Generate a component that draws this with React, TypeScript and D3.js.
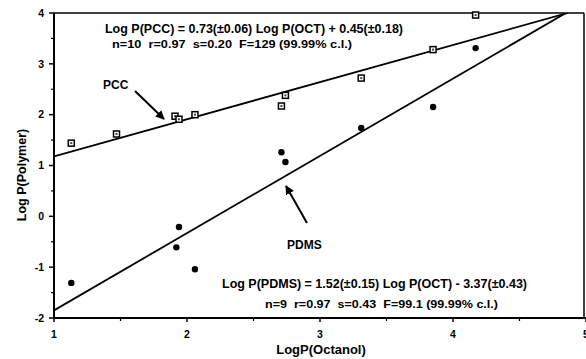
import React from 'react';
import * as d3 from 'd3';

// PCC (open squares) and PDMS (filled circles): log P(octanol) vs log P(polymer)
const pccOct = [1.13, 1.47, 1.91, 1.94, 2.06, 2.71, 2.74, 3.31, 3.85, 4.17];
const pccPoly = [1.44, 1.62, 1.97, 1.91, 2.0, 2.17, 2.38, 2.72, 3.28, 3.96];
const pdmsOct = [1.13, 1.92, 1.94, 2.06, 2.71, 2.74, 3.31, 3.85, 4.17];
const pdmsPoly = [-1.31, -0.61, -0.21, -1.04, 1.26, 1.07, 1.74, 2.15, 3.31];

// regression fits as printed on the chart
const pccFit = { slope: 0.73, intercept: 0.45 };
const pdmsFit = { slope: 1.52, intercept: -3.37 };

const xTicks = [1, 2, 3, 4, 5];
const yTicks = [-2, -1, 0, 1, 2, 3, 4];

const W = 586;
const H = 359;
const font = "'Liberation Sans', Arial, sans-serif";

export default function App() {
  const x = d3.scaleLinear().domain([1, 5]).range([54, 586]);
  const y = d3.scaleLinear().domain([-2, 4]).range([318, 13]);
  const [x0, x1] = x.range();
  const [yb, yt] = y.range();

  const fitLine = (fit: { slope: number; intercept: number }) => {
    const xEnd = Math.min(5, (4 - fit.intercept) / fit.slope);
    const pts: [number, number][] = [1, xEnd].map((v) => [v, fit.slope * v + fit.intercept]);
    return d3.line<[number, number]>().x((d) => x(d[0])).y((d) => y(d[1]))(pts) || '';
  };

  const minorX = d3.range(1.5, 5, 1);
  const minorY = d3.range(-1.5, 4, 1);

  return (
    <svg
      width={W}
      height={H}
      style={{ position: 'absolute', left: 0, top: 0, background: '#fff' }}
      fontFamily={font}
      fontWeight="bold"
    >
      <defs>
        <marker id="ah" viewBox="0 0 10 10" refX="9" refY="5" markerWidth="9" markerHeight="9" orient="auto" markerUnits="userSpaceOnUse">
          <path d="M0,0 L10,5 L0,10 z" fill="#000" />
        </marker>
        <clipPath id="plot">
          <rect x={x0} y={yt} width={x1 - x0} height={yb - yt} />
        </clipPath>
      </defs>

      {/* frame */}
      <line x1={x0} x2={x1 - 2} y1={yt} y2={yt} stroke="#000" strokeWidth={1.5} />
      <line x1={x1 - 2} x2={x1 - 2} y1={yt} y2={yb} stroke="#000" strokeWidth={1.5} />
      <line x1={x0} x2={x1} y1={yb} y2={yb} stroke="#000" strokeWidth={2} />
      <line x1={x0} x2={x0} y1={yt} y2={yb} stroke="#000" strokeWidth={2} />

      {/* y ticks */}
      {yTicks.map((t) => (
        <g key={'y' + t}>
          <line x1={x0 - 5} x2={x0} y1={y(t)} y2={y(t)} stroke="#000" strokeWidth={1.5} />
          <text x={x0 - 10} y={y(t)} dy="0.35em" textAnchor="end" fontSize={10.5}>{t}</text>
        </g>
      ))}
      {minorY.map((t) => (
        <line key={'my' + t} x1={x0 - 3} x2={x0} y1={y(t)} y2={y(t)} stroke="#000" strokeWidth={1.2} />
      ))}

      {/* x ticks */}
      {xTicks.map((t) => (
        <g key={'x' + t}>
          <line x1={x(t)} x2={x(t)} y1={yb} y2={yb + 4} stroke="#000" strokeWidth={1.5} />
          <text x={x(t)} y={yb + 20} textAnchor="middle" fontSize={10.5}>{t}</text>
        </g>
      ))}
      {minorX.map((t) => (
        <line key={'mx' + t} x1={x(t)} x2={x(t)} y1={yb} y2={yb + 3} stroke="#000" strokeWidth={1.2} />
      ))}

      {/* fit lines */}
      <g clipPath="url(#plot)">
        <path d={fitLine(pccFit)} fill="none" stroke="#000" strokeWidth={1.8} />
        <path d={fitLine(pdmsFit)} fill="none" stroke="#000" strokeWidth={1.8} />
      </g>

      {/* PCC points */}
      {pccOct.map((v, i) => (
        <g key={'p' + i}>
          <rect x={x(v) - 3} y={y(pccPoly[i]) - 3} width={6} height={6} fill="#fff" stroke="#000" strokeWidth={1.5} />
          <rect x={x(v) - 1} y={y(pccPoly[i]) - 1} width={2} height={2} fill="#444" />
        </g>
      ))}

      {/* PDMS points */}
      {pdmsOct.map((v, i) => (
        <circle key={'d' + i} cx={x(v)} cy={y(pdmsPoly[i])} r={3.2} fill="#000" />
      ))}

      {/* annotations */}
      <text x={103} y={89} fontSize={12}>PCC</text>
      <line x1={135} y1={91} x2={164} y2={119} stroke="#000" strokeWidth={2} markerEnd="url(#ah)" />
      <text x={287} y={249} fontSize={12}>PDMS</text>
      <line x1={307} y1={223} x2={286} y2={186} stroke="#000" strokeWidth={2} markerEnd="url(#ah)" />

      <text x={105} y={33} fontSize={12.5} textLength={298} lengthAdjust="spacingAndGlyphs">Log P(PCC) = 0.73(±0.06) Log P(OCT) + 0.45(±0.18)</text>
      <text x={112} y={48} fontSize={11} textLength={240} lengthAdjust="spacingAndGlyphs" style={{ whiteSpace: 'pre' }}>n=10  r=0.97  s=0.20  F=129 (99.99% c.l.)</text>
      <text x={222} y={288} fontSize={12.5} textLength={305} lengthAdjust="spacingAndGlyphs">Log P(PDMS) = 1.52(±0.15) Log P(OCT) - 3.37(±0.43)</text>
      <text x={265} y={308} fontSize={11} textLength={233} lengthAdjust="spacingAndGlyphs" style={{ whiteSpace: 'pre' }}>n=9  r=0.97  s=0.43  F=99.1 (99.99% c.l.)</text>

      {/* axis titles */}
      <text x={321} y={354} textAnchor="middle" fontSize={13}>LogP(Octanol)</text>
      <text transform="translate(26,175) rotate(-90)" textAnchor="middle" fontSize={12.5}>Log P(Polymer)</text>
    </svg>
  );
}
